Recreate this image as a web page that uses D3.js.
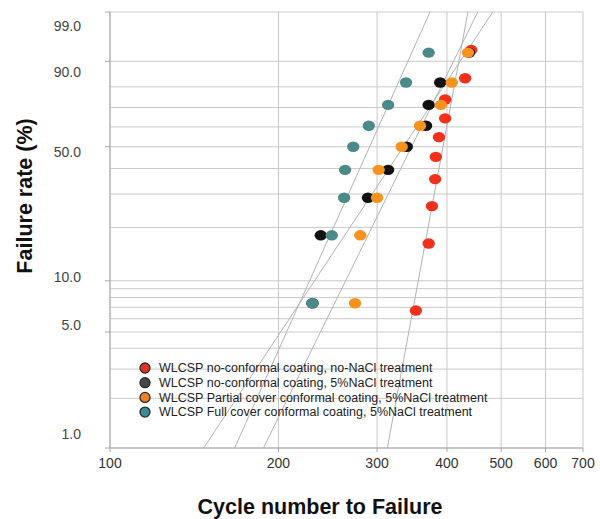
<!DOCTYPE html>
<html>
<head>
<meta charset="utf-8">
<script src="https://cdn.jsdelivr.net/npm/d3@7"></script>
<style>
  html, body { margin: 0; padding: 0; background: #fff; }
  svg { display: block; font-family: "Liberation Sans", Arial, Helvetica, sans-serif; }
</style>
</head>
<body>
<div id="chart"></div>
<script>
// series names (legend order)
const seriesNames = [
  "WLCSP no-conformal coating, no-NaCl treatment",
  "WLCSP no-conformal coating, 5%NaCl treatment",
  "WLCSP Partial cover conformal coating, 5%NaCl treatment",
  "WLCSP Full cover conformal coating, 5%NaCl treatment"
];

// failure data: cycles and cumulative failure rate (%)
const redCycles = [352, 371, 376, 381, 382, 387, 397, 397, 431, 442];
const redRates = [6.7, 16.3, 26.0, 35.6, 45.2, 54.8, 64.4, 74.0, 83.7, 93.3];

const blackCycles = [230, 238, 289, 314, 339, 367, 371, 389, 438];
const blackRates = [7.4, 18.1, 28.7, 39.4, 50.0, 60.6, 71.3, 81.9, 92.6];

const orangeCycles = [274, 280, 300, 302, 332, 358, 390, 408, 436];
const orangeRates = [7.4, 18.1, 28.7, 39.4, 50.0, 60.6, 71.3, 81.9, 92.6];

const tealCycles = [230, 249, 262, 263, 272, 290, 314, 338, 371];
const tealRates = [7.4, 18.1, 28.7, 39.4, 50.0, 60.6, 71.3, 81.9, 92.6];

// fitted weibull lines: cycles at 1% and 99%
const fitRates = [1, 99];
const redFit = [313, 436];
const blackFit = [147, 483];
const orangeFit = [188, 454];
const tealFit = [167, 373];

// axes
const xTicks = [100, 200, 300, 400, 500, 600, 700];
const yTicks = [1, 5, 10, 50, 90, 99];
const yGrid = [1, 2, 3, 4, 5, 6, 7, 8, 9, 10, 20, 30, 40, 50, 60, 70, 80, 90, 99];

const pointColors = ["#f3301b", "#111111", "#f6921e", "#4b8a88"];
const legendColors = ["#e2341c", "#43474b", "#ec831f", "#3d8b90"];

const width = 600, height = 519;
const plot = { left: 110, right: 583, top: 12, bottom: 448 };

// weibull transform of a percentage
const weib = p => Math.log(-Math.log(1 - p / 100));

const svg = d3.select("#chart").append("svg")
  .attr("width", width)
  .attr("height", height);

const x = d3.scaleLog()
  .domain([100, 700])
  .range([plot.left, plot.right]);

const y = d3.scaleLinear()
  .domain([weib(1), weib(99)])
  .range([plot.bottom, plot.top]);

// tick labels sit on a slightly inset scale in the original
const yLabel = d3.scaleLinear()
  .domain([weib(1), weib(99)])
  .range([434, 26]);

// clip for fit lines
svg.append("clipPath").attr("id", "clip")
  .append("rect")
  .attr("x", plot.left).attr("y", plot.top)
  .attr("width", plot.right - plot.left)
  .attr("height", plot.bottom - plot.top);

// grid
const grid = svg.append("g");
grid.selectAll("line.h").data(yGrid).join("line")
  .attr("x1", plot.left).attr("x2", plot.right)
  .attr("y1", d => y(weib(d))).attr("y2", d => y(weib(d)))
  .attr("stroke", "#c9c9c9").attr("stroke-width", 1);
grid.selectAll("line.v").data(xTicks).join("line")
  .attr("y1", plot.top).attr("y2", plot.bottom)
  .attr("x1", d => x(d)).attr("x2", d => x(d))
  .attr("stroke", "#c9c9c9").attr("stroke-width", 1);

// axes lines
svg.append("line")
  .attr("x1", plot.left).attr("x2", plot.left)
  .attr("y1", plot.top).attr("y2", plot.bottom)
  .attr("stroke", "#a8a8a8");
svg.append("line")
  .attr("x1", plot.left).attr("x2", plot.right)
  .attr("y1", plot.bottom).attr("y2", plot.bottom)
  .attr("stroke", "#a8a8a8");

// y ticks and labels
svg.selectAll("line.ytick").data(yTicks).join("line")
  .attr("x1", plot.left - 5).attr("x2", plot.left)
  .attr("y1", d => y(weib(d))).attr("y2", d => y(weib(d)))
  .attr("stroke", "#a8a8a8");
svg.selectAll("text.ylab").data(yTicks).join("text")
  .attr("x", 81)
  .attr("y", d => yLabel(weib(d)))
  .attr("dy", "0.35em")
  .attr("text-anchor", "end")
  .attr("font-size", 14)
  .attr("fill", "#444")
  .text(d => d3.format(".1f")(d));

// x ticks and labels
svg.selectAll("line.xtick").data(xTicks).join("line")
  .attr("x1", d => x(d)).attr("x2", d => x(d))
  .attr("y1", plot.bottom).attr("y2", plot.bottom + 4)
  .attr("stroke", "#a8a8a8");
svg.selectAll("text.xlab").data(xTicks).join("text")
  .attr("x", d => x(d))
  .attr("y", 463)
  .attr("dy", "0.35em")
  .attr("text-anchor", "middle")
  .attr("font-size", 14)
  .attr("fill", "#333")
  .text(d => d);

// axis titles
svg.append("text")
  .attr("x", 320).attr("y", 514)
  .attr("text-anchor", "middle")
  .attr("font-size", 21.5)
  .attr("font-weight", "bold")
  .attr("fill", "#111")
  .text("Cycle number to Failure");
svg.append("text")
  .attr("transform", "translate(32,196) rotate(-90)")
  .attr("text-anchor", "middle")
  .attr("font-size", 21.5)
  .attr("font-weight", "bold")
  .attr("fill", "#111")
  .text("Failure rate (%)");

// fit lines
const fits = [redFit, blackFit, orangeFit, tealFit];
const line = d3.line()
  .x(d => x(d[0]))
  .y(d => y(weib(d[1])));
svg.append("g").attr("clip-path", "url(#clip)")
  .selectAll("path").data(fits).join("path")
  .attr("d", f => line(f.map((c, i) => [c, fitRates[i]])))
  .attr("fill", "none")
  .attr("stroke", "#b3b3b3")
  .attr("stroke-width", 1);

// points
const series = [
  [redCycles, redRates],
  [blackCycles, blackRates],
  [orangeCycles, orangeRates],
  [tealCycles, tealRates]
];
series.forEach(([cycles, rates], s) => {
  svg.append("g").selectAll("ellipse")
    .data(cycles.map((c, i) => [c, rates[i]]))
    .join("ellipse")
    .attr("cx", d => x(d[0]))
    .attr("cy", d => y(weib(d[1])))
    .attr("rx", 6.2).attr("ry", 5.2)
    .attr("fill", pointColors[s]);
});

// legend
const legend = svg.append("g").attr("transform", "translate(145,368)");
const rows = legend.selectAll("g").data(seriesNames).join("g")
  .attr("transform", (d, i) => `translate(0,${i * 14.7})`);
rows.append("circle")
  .attr("r", 5)
  .attr("fill", (d, i) => legendColors[i])
  .attr("stroke", "#2a2a2a")
  .attr("stroke-width", 1.3);
rows.append("text")
  .attr("x", 14)
  .attr("dy", "0.35em")
  .attr("font-size", 12.5)
  .attr("fill", "#222")
  .text(d => d);
</script>
</body>
</html>
